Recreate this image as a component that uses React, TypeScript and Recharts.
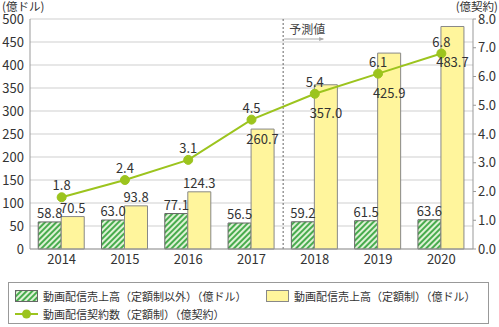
import { Bar, CartesianGrid, ComposedChart, LabelList, Legend, Line, ReferenceLine, XAxis, YAxis } from 'recharts'

const years = ['2014', '2015', '2016', '2017', '2018', '2019', '2020']
const otherSales = [58.8, 63.0, 77.1, 56.5, 59.2, 61.5, 63.6]
const fixedSales = [70.5, 93.8, 124.3, 260.7, 357.0, 425.9, 483.7]
const contracts = [1.8, 2.4, 3.1, 4.5, 5.4, 6.1, 6.8]

const leftTicks = [0, 50, 100, 150, 200, 250, 300, 350, 400, 450, 500]
const rightTicks = [0, 1, 2, 3, 4, 5, 6, 7, 8]

const seriesNames = {
  other: '動画配信売上高（定額制以外）（億ドル）',
  fixed: '動画配信売上高（定額制）（億ドル）',
  contracts: '動画配信契約数（定額制）（億契約）',
}

const data = years.map((year, i) => ({
  year,
  other: otherSales[i],
  fixed: fixedSales[i],
  contracts: contracts[i],
}))

const GREEN_LINE = '#9cc41e'
const YELLOW = '#fff59c'
const FONT = '"Noto Sans CJK JP", "Noto Sans", sans-serif'

function HatchPattern({ id }: { id: string }) {
  return (
    <pattern id={id} width="4" height="4" patternUnits="userSpaceOnUse" patternTransform="rotate(45)">
      <rect width="4" height="4" fill="#dff2d6" />
      <rect width="2" height="4" fill="#48ac4e" />
    </pattern>
  )
}

function OtherLabel(p: any) {
  return (
    <text x={p.x + p.width / 2} y={p.y - 4} textAnchor="middle" fontSize={13} fill="#333">
      {Number(p.value).toFixed(1)}
    </text>
  )
}

function FixedLabel(p: any) {
  const i = p.index
  const cx = p.x + p.width / 2
  if (i < 3) {
    return (
      <text x={cx} y={p.y - 4} textAnchor="middle" fontSize={13} fill="#333">
        {Number(p.value).toFixed(1)}
      </text>
    )
  }
  // place under the contract dot (right axis: 8.0 ↔ 500)
  const bottom = p.y + p.height
  const perUnit = p.height / p.value
  const dotY = bottom - contracts[i] * (500 / 8) * perUnit
  const below = i === 6 ? 13 : 24
  return (
    <text x={cx} y={dotY + below} textAnchor="middle" fontSize={13} fill="#333">
      {Number(p.value).toFixed(1)}
    </text>
  )
}

function ContractLabel(p: any) {
  return (
    <text x={p.x} y={p.y - 7} textAnchor="middle" fontSize={13} fill="#333">
      {Number(p.value).toFixed(1)}
    </text>
  )
}

function ForecastLabel(props: any) {
  const { x, y } = props.viewBox
  return (
    <g>
      <text x={x + 6} y={y + 15} fontSize={12} fill="#444">予測値</text>
      <line x1={x + 1} y1={y + 20} x2={x + 40} y2={y + 20} stroke="#aaa" strokeWidth={1} />
      <path d={`M${x + 36},${y + 18} L${x + 41},${y + 20} L${x + 36},${y + 22} Z`} fill="#aaa" />
    </g>
  )
}

function LegendBox() {
  const row: React.CSSProperties = { position: 'absolute', display: 'flex', alignItems: 'center', fontSize: 11, color: '#333', whiteSpace: 'nowrap', lineHeight: '14px' }
  return (
    <div style={{ height: 58, paddingTop: 13, boxSizing: 'border-box', fontFamily: FONT }}>
      <div style={{ position: 'relative', marginLeft: 8, width: 481, height: 42, border: '1px solid #999', boxSizing: 'border-box' }}>
        <div style={{ ...row, left: 6, top: 6 }}>
          <svg width={23} height={12} style={{ marginRight: 5 }}>
            <defs><HatchPattern id="hatchLegend" /></defs>
            <rect x={0.5} y={0.5} width={22} height={11} fill="url(#hatchLegend)" stroke="#666" />
          </svg>
          {seriesNames.other}
        </div>
        <div style={{ ...row, left: 257, top: 6 }}>
          <svg width={23} height={12} style={{ marginRight: 5 }}>
            <rect x={0.5} y={0.5} width={22} height={11} fill={YELLOW} stroke="#888" />
          </svg>
          {seriesNames.fixed}
        </div>
        <div style={{ ...row, left: 6, top: 24 }}>
          <svg width={23} height={12} style={{ marginRight: 5 }}>
            <line x1={0} y1={6} x2={23} y2={6} stroke={GREEN_LINE} strokeWidth={2} />
            <circle cx={11.5} cy={6} r={4.5} fill={GREEN_LINE} />
          </svg>
          {seriesNames.contracts}
        </div>
      </div>
    </div>
  )
}

export default function App() {
  const unit: React.CSSProperties = { position: 'absolute', top: 0, fontSize: 11.5, lineHeight: '13px', color: '#333', whiteSpace: 'nowrap' }
  return (
    <div style={{ position: 'absolute', left: 0, top: 0, width: 499, height: 327, fontFamily: FONT, background: '#fff' }}>
      <div style={{ ...unit, left: 2 }}>(億ドル)</div>
      <div style={{ ...unit, right: 1 }}>(億契約)</div>
      <ComposedChart
        width={499}
        height={327}
        data={data}
        margin={{ top: 19, right: 0, bottom: 0, left: 0 }}
        barCategoryGap="13%"
        barGap={0}
      >
        <defs>
          <HatchPattern id="hatch" />
        </defs>
        <CartesianGrid yAxisId="left" vertical={false} stroke="#cfcfcf" />
        <XAxis
          dataKey="year"
          height={20}
          axisLine={{ stroke: '#999' }}
          tickLine={false}
          tickSize={0}
          tickMargin={6}
          tick={{ fontSize: 13, fill: '#333' }}
        />
        <YAxis
          yAxisId="left"
          domain={[0, 500]}
          ticks={leftTicks}
          width={30}
          axisLine={{ stroke: '#999' }}
          tickLine={false}
          tickSize={0}
          tickMargin={6}
          tick={{ fontSize: 13, fill: '#333' }}
          interval={0}
        />
        <YAxis
          yAxisId="right"
          orientation="right"
          domain={[0, 8]}
          ticks={rightTicks}
          width={26}
          axisLine={{ stroke: '#999' }}
          tickLine={{ stroke: '#999' }}
          tickSize={3}
          tickMargin={2}
          tick={{ fontSize: 13, fill: '#333' }}
          tickFormatter={(v: number) => v.toFixed(1)}
          interval={0}
        />
        <ReferenceLine
          yAxisId="left"
          x="2018"
          position="start"
          stroke="#666"
          strokeDasharray="2 2"
          label={<ForecastLabel />}
        />
        <Bar yAxisId="left" dataKey="other" name={seriesNames.other} fill="url(#hatch)" stroke="#666" strokeWidth={1} isAnimationActive={false}>
          <LabelList dataKey="other" content={OtherLabel} />
        </Bar>
        <Bar yAxisId="left" dataKey="fixed" name={seriesNames.fixed} fill={YELLOW} stroke="#888" strokeWidth={1} isAnimationActive={false}>
          <LabelList dataKey="fixed" content={FixedLabel} />
        </Bar>
        <Line
          yAxisId="right"
          dataKey="contracts"
          name={seriesNames.contracts}
          stroke={GREEN_LINE}
          strokeWidth={2}
          dot={{ r: 4.5, fill: GREEN_LINE, stroke: GREEN_LINE, strokeWidth: 1 }}
          isAnimationActive={false}
        >
          <LabelList dataKey="contracts" content={ContractLabel} />
        </Line>
        <Legend verticalAlign="bottom" content={() => <LegendBox />} wrapperStyle={{ left: 0, width: 499 }} />
      </ComposedChart>
    </div>
  )
}
